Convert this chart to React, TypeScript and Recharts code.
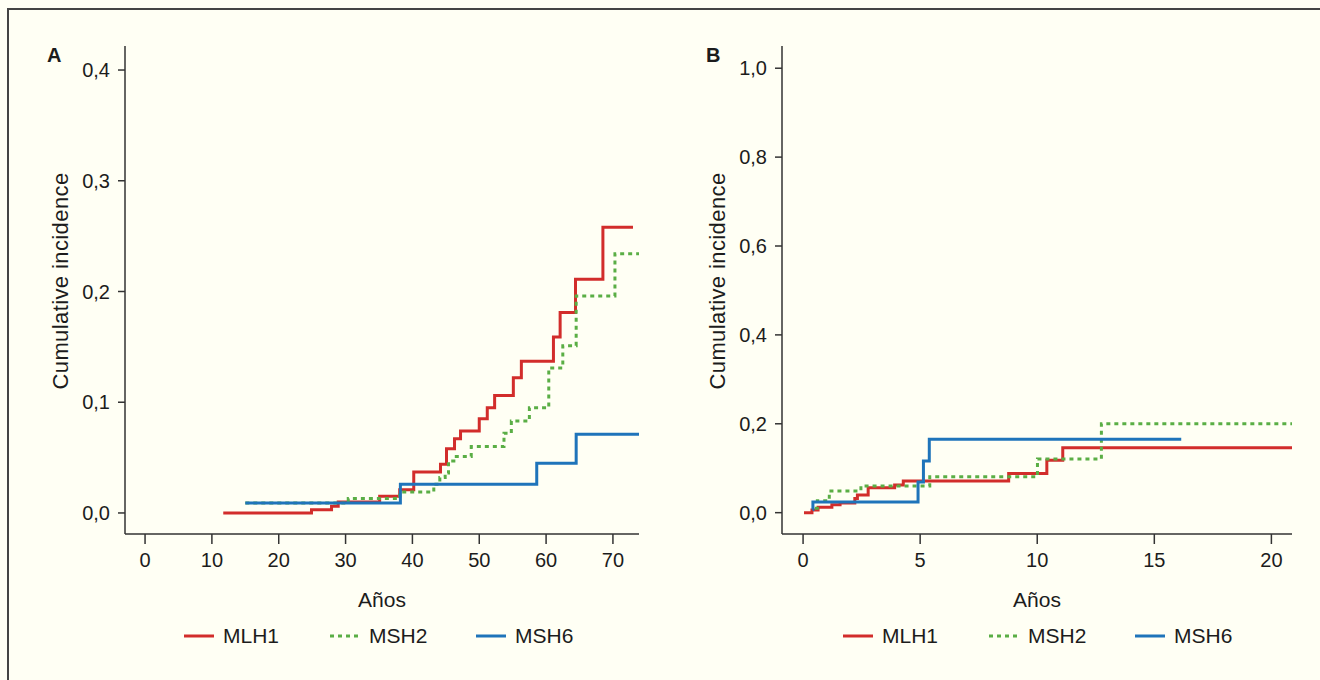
import React from 'react';
import { LineChart, Line, XAxis, YAxis, Label } from 'recharts';

// Panel A: edad (años) y incidencia acumulada
const edadMLH1 = [11.7, 24.9, 27.9, 28.9, 35.1, 38.1, 40.2, 44.2, 45.1, 46.3, 47.2, 50.0, 51.2, 52.3, 55.1, 56.3, 61.1, 62.1, 64.4, 68.5, 73.0];
const incMLH1 = [0, 0.003, 0.006, 0.01, 0.015, 0.021, 0.037, 0.044, 0.058, 0.067, 0.074, 0.085, 0.095, 0.106, 0.122, 0.137, 0.159, 0.181, 0.211, 0.258, 0.258];
const edadMSH2 = [15.0, 30.4, 38.1, 43.2, 44.1, 44.9, 45.4, 46.2, 48.8, 53.7, 54.8, 57.5, 60.4, 62.5, 64.5, 70.3, 73.9];
const incMSH2 = [0.009, 0.013, 0.019, 0.026, 0.032, 0.036, 0.047, 0.051, 0.06, 0.072, 0.083, 0.095, 0.131, 0.151, 0.196, 0.234, 0.234];
const edadMSH6 = [15.0, 38.2, 58.6, 64.5, 73.9];
const incMSH6 = [0.009, 0.026, 0.045, 0.071, 0.071];

// Panel B: años de seguimiento
const segMLH1 = [0.04, 0.38, 0.64, 1.23, 1.58, 2.21, 2.32, 2.78, 3.91, 4.28, 8.78, 10.41, 11.09, 20.88];
const incSegMLH1 = [0, 0.006, 0.012, 0.018, 0.022, 0.032, 0.04, 0.056, 0.062, 0.071, 0.088, 0.118, 0.146, 0.146];
const segMSH2 = [0.5, 0.61, 1.12, 2.47, 5.41, 10.01, 12.74, 20.88];
const incSegMSH2 = [0.01, 0.027, 0.049, 0.06, 0.081, 0.121, 0.2, 0.2];
const segMSH6 = [0.41, 0.42, 4.91, 5.14, 5.39, 16.15];
const incSegMSH6 = [0.007, 0.024, 0.069, 0.116, 0.165, 0.165];

const ticksXA = [0, 10, 20, 30, 40, 50, 60, 70];
const ticksYA = [0, 0.1, 0.2, 0.3, 0.4];
const ticksXB = [0, 5, 10, 15, 20];
const ticksYB = [0, 0.2, 0.4, 0.6, 0.8, 1.0];

const genes = ['MLH1', 'MSH2', 'MSH6'];
const colors = ['#d22d2b', '#5aae45', '#1f74ba'];
const dashes = [undefined, '4 4', undefined];

const font = '"Liberation Sans", Arial, sans-serif';
const ink = '#1c1c1c';
const axisColor = '#333';

const toPts = (xs: number[], ys: number[]) => xs.map((x, i) => ({ x, y: ys[i] }));
const fmt = (v: number) => v.toFixed(1).replace('.', ',');

function Panel(props: {
  left: number; width: number; right: number;
  xDomain: [number, number]; yDomain: [number, number];
  xTicks: number[]; yTicks: number[];
  series: { x: number; y: number }[][];
}) {
  const { left, width, right, xDomain, yDomain, xTicks, yTicks, series } = props;
  const tick = { fontSize: 20, fill: ink, fontFamily: font };
  return (
    <div style={{ position: 'absolute', left, top: 0 }}>
      <LineChart width={width} height={680} margin={{ top: 46, right, bottom: 73, left: 0 }}>
        <XAxis
          type="number" dataKey="x" domain={xDomain} ticks={xTicks} allowDataOverflow
          height={73} tickSize={10} tickMargin={9} tick={tick}
          stroke={axisColor} strokeWidth={1.5}
        >
          <Label value="Años" position="insideBottom" offset={0} style={{ fontSize: 21, fill: ink, fontFamily: font }} />
        </XAxis>
        <YAxis
          type="number" dataKey="y" domain={yDomain} ticks={yTicks} allowDataOverflow
          width={130} tickSize={7} tickMargin={8} tick={tick} tickFormatter={fmt}
          stroke={axisColor} strokeWidth={1.5}
        >
          <Label
            value="Cumulative incidence" position="center" angle={-90}
            viewBox={{ x: 0, y: 46, width: 130, height: 470 }}
            style={{ fontSize: 22, letterSpacing: 0.4, fill: ink, fontFamily: font }}
          />
        </YAxis>
        {series.map((d, i) => (
          <Line
            key={genes[i]} data={d} dataKey="y" type="stepAfter" name={genes[i]}
            stroke={colors[i]} strokeWidth={3} strokeDasharray={dashes[i]}
            dot={false} activeDot={false} isAnimationActive={false}
          />
        ))}
      </LineChart>
    </div>
  );
}

function Leyenda({ left }: { left: number }) {
  return (
    <div style={{ position: 'absolute', left, top: 624, height: 24, display: 'flex', alignItems: 'center' }}>
      {genes.map((g, i) => (
        <div key={g} style={{ width: 146, display: 'flex', alignItems: 'center' }}>
          <svg width={30} height={4} style={{ display: 'block' }}>
            <line x1={0} y1={2} x2={30} y2={2} stroke={colors[i]} strokeWidth={3} strokeDasharray={dashes[i]} />
          </svg>
          <span style={{ marginLeft: 9, fontSize: 21, color: ink, fontFamily: font, lineHeight: '24px' }}>{g}</span>
        </div>
      ))}
    </div>
  );
}

export default function App() {
  const letter: React.CSSProperties = {
    position: 'absolute', top: 45, fontSize: 20, fontWeight: 'bold', lineHeight: '20px', fontFamily: font, color: ink,
  };
  return (
    <div style={{ position: 'absolute', left: 0, top: 0, width: 1320, height: 680, overflow: 'hidden', background: '#fffff4' }}>
      <div style={{ position: 'absolute', left: 7, top: 8, width: 1400, height: 800, borderTop: '2px solid #444', borderLeft: '2px solid #444' }} />
      <div style={{ ...letter, left: 47 }}>A</div>
      <div style={{ ...letter, left: 706 }}>B</div>
      <Panel
        left={-5} width={650} right={6}
        xDomain={[-3, 73.9]} yDomain={[-0.019, 0.4217]}
        xTicks={ticksXA} yTicks={ticksYA}
        series={[toPts(edadMLH1, incMLH1), toPts(edadMSH2, incMSH2), toPts(edadMSH6, incMSH6)]}
      />
      <Panel
        left={652} width={650} right={10}
        xDomain={[-0.9, 20.88]} yDomain={[-0.048, 1.05]}
        xTicks={ticksXB} yTicks={ticksYB}
        series={[toPts(segMLH1, incSegMLH1), toPts(segMSH2, incSegMSH2), toPts(segMSH6, incSegMSH6)]}
      />
      <Leyenda left={184} />
      <Leyenda left={843} />
    </div>
  );
}
